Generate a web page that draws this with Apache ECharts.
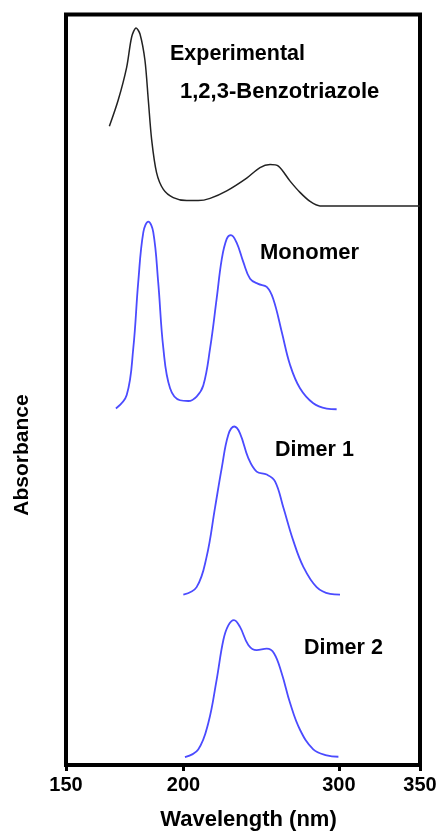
<!DOCTYPE html>
<html>
<head>
<meta charset="utf-8">
<script src="https://cdn.jsdelivr.net/npm/echarts@6/dist/echarts.min.js"></script>
<style>html,body{margin:0;padding:0;background:#fff}#c{width:442px;height:836px}</style>
</head>
<body>
<div id="c"></div>
<script>
// Tick labels and their positions on the (non-uniform) printed axis
const tickLabels = ["150", "200", "300", "350"];
const tickPos = [150, 216.4, 304.2, 350];

// Experimental 1,2,3-Benzotriazole (offset trace)
const expX = [174.5,179.5,184.3,187.1,189.6,191.8,194.6,196.5,198.4,201.2,205.0,210.6,218.2,224.7,231.4,240.8,252.1,259.6,265.3,270.0,276.6,282.2,287.9,293.5,350];
const expY = [85.1,88.6,93.0,97.0,98.2,97.4,93.9,88.6,83.3,78.9,76.7,75.6,75.2,75.2,75.5,76.5,78.2,79.6,80.0,79.8,77.8,76.3,75.1,74.5,74.5];

// Monomer
const monX = [178.2,184.3,188.0,190.8,193.7,196.5,199.3,202.1,205.0,208.8,214.4,219.1,223.8,227.6,231.4,235.1,238.0,240.8,243.2,246.4,250.2,254.0,258.6,263.4,267.1,271.9,276.6,282.2,289.7,297.3,302.9];
const monY = [47.5,49.3,55.5,64.3,71.0,72.4,71.0,64.3,55.5,50.2,48.6,48.5,49.1,50.6,55.5,62.1,67.4,70.1,70.6,69.6,67.0,64.8,64.1,63.7,62.1,57.7,53.3,50.2,48.2,47.5,47.4];

// Dimer 1
const d1X = [216.3,223.8,229.4,234.2,238.0,241.7,245.1,248.3,253.0,257.7,263.4,268.1,272.8,278.4,284.1,291.6,299.2,304.8];
const d1Y = [22.7,23.7,27.7,34.3,39.6,44.0,45.1,44.2,40.9,39.1,38.7,37.8,34.3,29.9,26.4,23.7,22.8,22.7];

// Dimer 2
const d2X = [217.2,224.7,230.4,235.1,238.9,241.7,244.9,248.3,253.0,257.7,263.4,267.5,271.9,276.6,282.2,289.7,297.3,303.9];
const d2Y = [1.06,2.08,5.6,11.35,16.65,18.6,19.3,18.4,16.0,15.3,15.5,14.9,12.2,8.25,4.7,2.08,1.28,1.1];

const pairs = (xs, ys) => xs.map((x, i) => [x, ys[i]]);
const FONT = '"Liberation Sans", Arial, sans-serif';
const BLUE = '#4b4bff';

const chart = echarts.init(document.getElementById('c'), null, {renderer: 'canvas'});

function lineSeries(name, xs, ys, color, width, smooth) {
  return {
    name, type: 'line', data: pairs(xs, ys), showSymbol: false, symbol: 'none',
    smooth: smooth,
    lineStyle: {color, width}, silent: true, animation: false
  };
}

const textStyle = (t, x, y, size) => ({
  type: 'text', left: x, top: y - size * 0.5,
  style: {text: t, fontFamily: FONT, fontWeight: 'bold', fontSize: size, fill: '#000'}
});

chart.setOption({
  animation: false,
  backgroundColor: '#fff',
  grid: {left: 66, top: 14.5, width: 354, height: 755, show: true, borderColor: '#000', borderWidth: 4, backgroundColor: 'transparent'},
  xAxis: {
    type: 'value', min: 150, max: 350,
    axisLine: {show: false},
    splitLine: {show: false},
    axisTick: {show: true, customValues: tickPos, length: 6, lineStyle: {color: '#000', width: 3}},
    axisLabel: {
      customValues: tickPos, margin: 10,
      formatter: v => { const i = tickPos.findIndex(p => Math.abs(p - v) < 0.01); return i >= 0 ? tickLabels[i] : ''; },
      color: '#000', fontFamily: FONT, fontWeight: 'bold', fontSize: 20
    },
    name: 'Wavelength (nm)', nameLocation: 'middle', nameGap: 44,
    nameTextStyle: {color: '#000', fontFamily: FONT, fontWeight: 'bold', fontSize: 22, padding: [0, 0, 0, 11]}
  },
  yAxis: {
    type: 'value', min: 0, max: 100,
    axisLine: {show: false}, axisTick: {show: false}, axisLabel: {show: false}, splitLine: {show: false}
  },
  series: [
    lineSeries('Experimental', expX, expY, '#222', 1.5, 0.3),
    lineSeries('Monomer', monX, monY, BLUE, 1.8, 0.4),
    lineSeries('Dimer 1', d1X, d1Y, BLUE, 1.8, 0.4),
    lineSeries('Dimer 2', d2X, d2Y, BLUE, 1.8, 0.4)
  ],
  graphic: [
    textStyle('Experimental', 170, 54, 21.5),
    textStyle('1,2,3-Benzotriazole', 180, 92, 22),
    textStyle('Monomer', 260, 253, 22),
    textStyle('Dimer 1', 275, 450, 21.5),
    textStyle('Dimer 2', 304, 648, 21.5),
    {
      type: 'text', x: 22, y: 455, rotation: Math.PI / 2,
      style: {text: 'Absorbance', fontFamily: FONT, fontWeight: 'bold', fontSize: 21, fill: '#000', align: 'center', verticalAlign: 'middle'}
    }
  ]
});
</script>
</body>
</html>
